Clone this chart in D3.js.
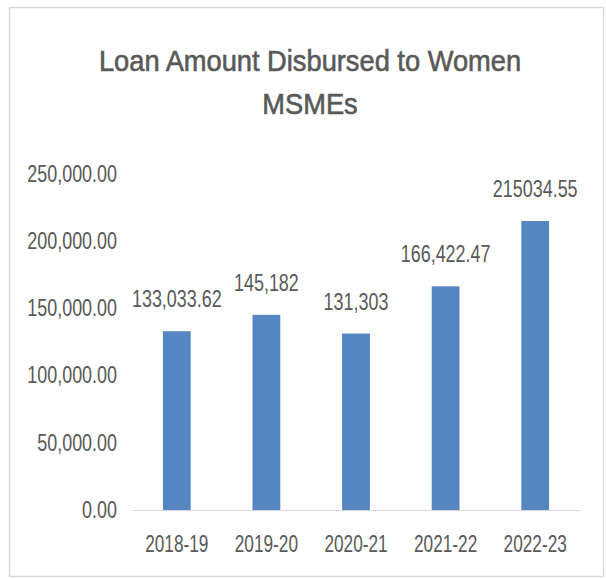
<!DOCTYPE html>
<html>
<head>
<meta charset="utf-8">
<script src="https://cdn.jsdelivr.net/npm/d3@7"></script>
<style>
  html, body { margin: 0; padding: 0; background: #fff; }
  svg { display: block; }
  text { font-family: "Liberation Sans", Arial, sans-serif; fill: #595959; }
</style>
</head>
<body>
<svg id="chart" width="606" height="579"></svg>
<script>
// Loan amounts disbursed to women-owned MSMEs, by financial year
const years = ["2018-19", "2019-20", "2020-21", "2021-22", "2022-23"];
const amounts = [133033.62, 145182, 131303, 166422.47, 215034.55];
const amountLabels = ["133,033.62", "145,182", "131,303", "166,422.47", "215034.55"];
const yTicks = [0, 50000, 100000, 150000, 200000, 250000];
const titleLines = ["Loan Amount Disbursed to Women", "MSMEs"];

const svg = d3.select("#chart");
const W = 606, H = 579;
const narrow = 0.78;      // horizontal squeeze for the condensed label face
const labelSize = 23;

// chart frame
svg.append("rect")
  .attr("x", 9.5).attr("y", 7.5)
  .attr("width", 594).attr("height", 569)
  .attr("fill", "#fff")
  .attr("stroke", "#d9d9d9")
  .attr("stroke-width", 1.5);

const plot = { left: 132, right: 580, top: 174, bottom: 510 };

const x = d3.scaleBand()
  .domain(years)
  .range([plot.left, plot.right])
  .paddingInner(0.69)
  .paddingOuter(0.345);

const y = d3.scaleLinear()
  .domain([0, 250000])
  .range([plot.bottom, plot.top]);

// title
svg.append("g").selectAll("text")
  .data(titleLines)
  .join("text")
  .attr("transform", (d, i) => `translate(310,${71 + i * 43}) scale(0.94,1.04)`)
  .attr("text-anchor", "middle")
  .attr("font-size", 29)
  .attr("stroke", "#595959")
  .attr("stroke-width", 0.6)
  .text(d => d);

// y axis labels
const yAxis = d3.axisLeft(y)
  .tickValues(yTicks)
  .tickSize(0)
  .tickPadding(0)
  .tickFormat(d3.format(",.2f"));
const gy = svg.append("g")
  .attr("transform", `translate(117,0)`)
  .call(yAxis);
gy.select(".domain").remove();
gy.selectAll("text")
  .attr("font-size", labelSize)
  .attr("font-family", "Liberation Sans, Arial, sans-serif")
  .attr("fill", "#595959")
  .attr("transform", `scale(${narrow},1)`);

// bars
svg.append("g").selectAll("rect")
  .data(amounts)
  .join("rect")
  .attr("x", (d, i) => x(years[i]))
  .attr("y", d => y(d))
  .attr("width", x.bandwidth())
  .attr("height", d => y(0) - y(d))
  .attr("fill", "#5586c2");

// x axis baseline and category labels
const xAxis = d3.axisBottom(x).tickSize(0).tickPadding(0);
const gx = svg.append("g")
  .attr("transform", `translate(0,${plot.bottom})`)
  .call(xAxis);
gx.select(".domain").attr("stroke", "#d9d9d9").attr("stroke-width", 1);
gx.selectAll("text")
  .attr("y", 42)
  .attr("dy", 0)
  .attr("font-size", labelSize)
  .attr("font-family", "Liberation Sans, Arial, sans-serif")
  .attr("fill", "#595959")
  .attr("transform", `scale(${narrow - 0.03},1)`);

// value labels above bars
svg.append("g").selectAll("text")
  .data(amounts)
  .join("text")
  .attr("transform", (d, i) =>
    `translate(${x(years[i]) + x.bandwidth() / 2},${y(d) - 24}) scale(${narrow},1)`)
  .attr("text-anchor", "middle")
  .attr("font-size", labelSize)
  .text((d, i) => amountLabels[i]);
</script>
</body>
</html>
